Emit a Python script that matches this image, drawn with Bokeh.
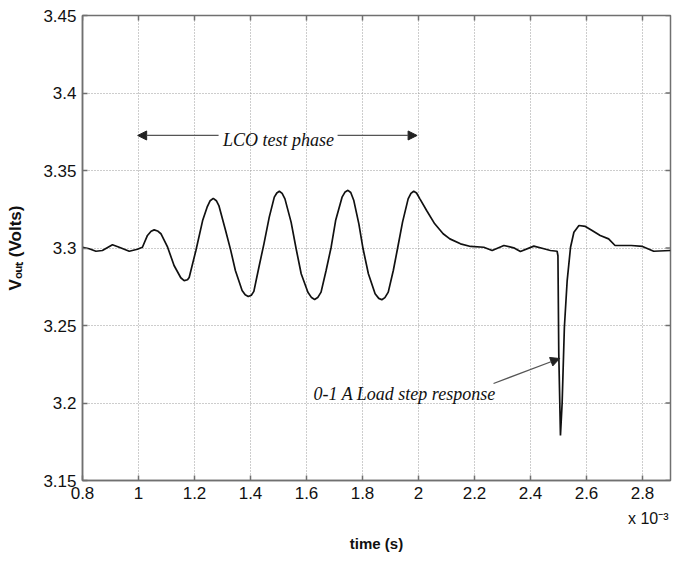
from bokeh.plotting import figure
from bokeh.models import FixedTicker, Label, Arrow, NormalHead, Title
from bokeh.embed import file_html
from bokeh.resources import INLINE

# ---- data (time in ms, i.e. x 10^-3 s) ----
t_ms = [0.800, 0.824, 0.848, 0.871, 0.907, 0.931, 0.967, 0.996, 1.014, 1.032,
        1.045, 1.056, 1.068, 1.080, 1.104, 1.127, 1.151, 1.163, 1.175, 1.181,
        1.205, 1.229, 1.245, 1.256, 1.267, 1.278, 1.287, 1.311, 1.329, 1.346,
        1.370, 1.381, 1.392, 1.403, 1.412, 1.430, 1.448, 1.467, 1.485, 1.494,
        1.503, 1.513, 1.523, 1.545, 1.563, 1.581, 1.605, 1.618, 1.629, 1.640,
        1.652, 1.670, 1.688, 1.704, 1.727, 1.738, 1.748, 1.758, 1.769, 1.787,
        1.802, 1.821, 1.845, 1.858, 1.869, 1.880, 1.892, 1.910, 1.925, 1.943,
        1.963, 1.973, 1.983, 1.993, 2.005, 2.029, 2.058, 2.088, 2.112, 2.150,
        2.186, 2.233, 2.263, 2.305, 2.340, 2.364, 2.412, 2.448, 2.471, 2.495,
        2.498, 2.501, 2.507, 2.513, 2.521, 2.531, 2.543, 2.555, 2.573, 2.596,
        2.620, 2.649, 2.679, 2.702, 2.732, 2.760, 2.800, 2.840, 2.900]
v_out = [3.3005, 3.2995, 3.2979, 3.2984, 3.3021, 3.3005, 3.2979, 3.2992, 3.3005, 3.3081,
         3.3108, 3.3117, 3.3110, 3.3092, 3.3005, 3.2887, 3.2808, 3.2790, 3.2795, 3.2810,
         3.2984, 3.3177, 3.3263, 3.3305, 3.3320, 3.3305, 3.3274, 3.3113, 3.2988, 3.2855,
         3.2726, 3.2698, 3.2687, 3.2695, 3.2720, 3.2876, 3.3027, 3.3199, 3.3328, 3.3355,
         3.3366, 3.3352, 3.3317, 3.3167, 3.2995, 3.2834, 3.2715, 3.2680, 3.2668, 3.2680,
         3.2715, 3.2855, 3.3005, 3.3177, 3.3328, 3.3362, 3.3372, 3.3358, 3.3306, 3.3156,
         3.2995, 3.2834, 3.2705, 3.2675, 3.2666, 3.2680, 3.2715, 3.2855, 3.2995, 3.3167,
         3.3317, 3.3352, 3.3366, 3.3355, 3.3317, 3.3242, 3.3156, 3.3092, 3.3059, 3.3027,
         3.3010, 3.3005, 3.2984, 3.3016, 3.3001, 3.2977, 3.3012, 3.2995, 3.2984, 3.2979,
         3.2950, 3.2317, 3.1790, 3.2000, 3.2489, 3.2790, 3.3005, 3.3102, 3.3145, 3.3139,
         3.3113, 3.3081, 3.3059, 3.3016, 3.3016, 3.3016, 3.3010, 3.2979, 3.2984]

x_ticks = [0.8, 1.0, 1.2, 1.4, 1.6, 1.8, 2.0, 2.2, 2.4, 2.6, 2.8]
x_tick_labels = ["0.8", "1", "1.2", "1.4", "1.6", "1.8", "2", "2.2", "2.4", "2.6", "2.8"]
y_ticks = [3.15, 3.20, 3.25, 3.30, 3.35, 3.40, 3.45]
y_tick_labels = ["3.15", "3.2", "3.25", "3.3", "3.35", "3.4", "3.45"]

x_label = "time (s)"
x_scale_label = "x 10\u207b\u00b3"
y_label = "V\u2092\u1d64\u209c (Volts)"

x_lo, x_hi = 0.8, 2.9
y_lo, y_hi = 3.15, 3.45

# canvas / frame geometry (pixels)
W, H = 672, 560
ML, MR, MT, MB = 82, 2, 15, 80
FW, FH = W - ML - MR, H - MT - MB

p = figure(width=W, height=H, x_range=(x_lo, x_hi), y_range=(y_lo, y_hi),
           output_backend="svg", toolbar_location=None,
           min_border_left=ML, min_border_right=MR, min_border_top=MT, min_border_bottom=MB)

p.background_fill_color = "white"
p.border_fill_color = "white"
p.outline_line_color = "#707070"
p.outline_line_width = 1.5

AX_COL = "#707070"
for ax in (p.xaxis[0], p.yaxis[0]):
    ax.axis_line_color = AX_COL
    ax.axis_line_width = 1.5
    ax.major_tick_line_color = AX_COL
    ax.major_tick_line_width = 1.5
    ax.major_tick_in = 5
    ax.major_tick_out = 0
    ax.minor_tick_line_color = None
    ax.major_label_text_font = "Liberation Sans"
    ax.major_label_text_font_size = "17px"
    ax.major_label_text_color = "#111111"

p.xaxis.ticker = FixedTicker(ticks=x_ticks)
p.yaxis.ticker = FixedTicker(ticks=y_ticks)
p.xaxis.major_label_overrides = {k: s for k, s in zip(x_ticks, x_tick_labels)}
p.yaxis.major_label_overrides = {k: s for k, s in zip(y_ticks, y_tick_labels)}
p.xaxis.major_label_standoff = 6
p.yaxis.major_label_standoff = 6

p.xaxis.axis_label = None
p.yaxis.axis_label = y_label
p.yaxis.axis_label_text_font = "Liberation Sans"
p.yaxis.axis_label_text_font_style = "bold"
p.yaxis.axis_label_text_font_size = "17px"
p.yaxis.axis_label_text_color = "#111111"
p.yaxis.axis_label_standoff = 15

for g in (p.xgrid[0], p.ygrid[0]):
    g.grid_line_color = "#9a9a9a"
    g.grid_line_width = 1
    g.grid_line_dash = "1 2"
p.xgrid.ticker = FixedTicker(ticks=x_ticks)
p.ygrid.ticker = FixedTicker(ticks=y_ticks)

# inward ticks on the top and right edges (mirrors of the bottom/left ticks)
tick_dx = 5 * (x_hi - x_lo) / FW
tick_dy = 5 * (y_hi - y_lo) / FH
p.segment(x0=x_ticks, y0=[y_hi] * len(x_ticks), x1=x_ticks, y1=[y_hi - tick_dy] * len(x_ticks),
          line_color=AX_COL, line_width=1.5)
p.segment(x0=[x_hi] * len(y_ticks), y0=y_ticks, x1=[x_hi - tick_dx] * len(y_ticks), y1=y_ticks,
          line_color=AX_COL, line_width=1.5)

# waveform
p.line(t_ms, v_out, line_color="#111111", line_width=1.7)

# annotations
ann_font = "Liberation Serif"
p.add_layout(Label(x=1.5, y=3.3694, text="LCO test phase", text_font=ann_font,
                   text_font_style="italic", text_font_size="18px", text_align="center",
                   text_baseline="alphabetic", text_color="#111111"))
head_l = NormalHead(size=9, fill_color="#222222", line_color="#222222")
head_r = NormalHead(size=9, fill_color="#222222", line_color="#222222")
p.add_layout(Arrow(end=head_l, x_start=1.286, y_start=3.3726, x_end=0.997, y_end=3.3726,
                   line_color="#555555", line_width=1.2))
p.add_layout(Arrow(end=head_r, x_start=1.711, y_start=3.3726, x_end=1.995, y_end=3.3726,
                   line_color="#555555", line_width=1.2))

p.add_layout(Label(x=1.625, y=3.2055, text="0-1 A Load step response", text_font=ann_font,
                   text_font_style="italic", text_font_size="18px", text_align="left",
                   text_baseline="alphabetic", text_color="#111111"))
head_s = NormalHead(size=9, fill_color="#222222", line_color="#222222")
p.add_layout(Arrow(end=head_s, x_start=2.268, y_start=3.2126, x_end=2.504, y_end=3.2287,
                   line_color="#555555", line_width=1.2))

# x scale factor and x title below the axis
p.add_layout(Title(text=x_scale_label, align="right", text_font="Liberation Sans",
                   text_font_style="normal", text_font_size="16px", text_color="#111111",
                   standoff=12, offset=2), "below")
p.add_layout(Title(text=x_label, align="center", text_font="Liberation Sans",
                   text_font_style="bold", text_font_size="15px", text_color="#111111",
                   standoff=0), "below")

open("out.html", "w").write(file_html(p, INLINE))
